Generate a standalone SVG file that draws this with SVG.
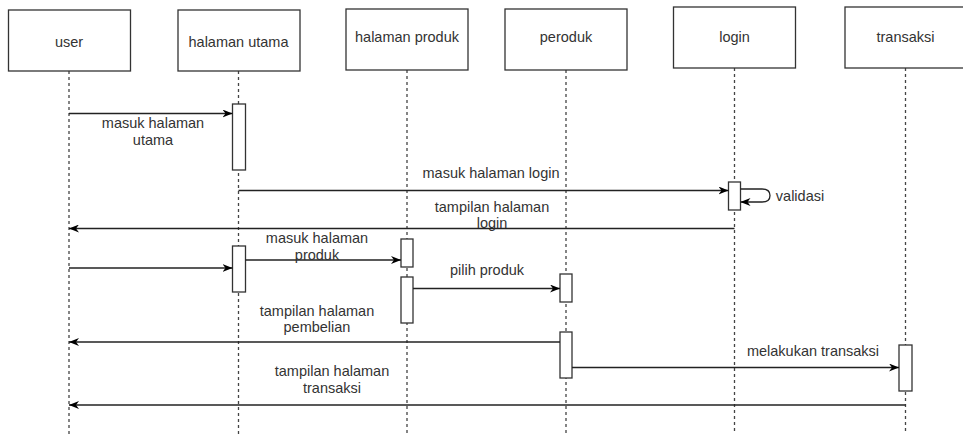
<svg xmlns="http://www.w3.org/2000/svg" width="963" height="434" viewBox="0 0 963 434">
  <defs>
    <marker id="arrow" viewBox="0 0 10 8" refX="10" refY="4" markerWidth="10" markerHeight="8" markerUnits="userSpaceOnUse" orient="auto">
      <path d="M0,0 L10,4 L0,8 L3,4 z" fill="#000"/>
    </marker>
  </defs>
  <style>
    .box { fill: #fff; stroke: #333; stroke-width: 1.3; }
    .act { fill: #fff; stroke: #333; stroke-width: 1.3; }
    .life { stroke: #444; stroke-width: 1.3; stroke-dasharray: 3 3; fill: none; }
    .msg { stroke: #222; stroke-width: 1.3; fill: none; marker-end: url(#arrow); }
    text { font-family: "Liberation Sans", Arial, sans-serif; font-size: 14.5px; fill: #333; text-anchor: middle; }
  </style>
  <rect width="963" height="434" fill="#fff"/>

  <!-- lifelines -->
  <g id="lifelines">
    <line class="life" x1="69" y1="71" x2="69" y2="434"/>
    <line class="life" x1="238.5" y1="71" x2="238.5" y2="434"/>
    <line class="life" x1="407" y1="70" x2="407" y2="434"/>
    <line class="life" x1="566" y1="70" x2="566" y2="434"/>
    <line class="life" x1="734.5" y1="68" x2="734.5" y2="434"/>
    <line class="life" x1="905.5" y1="68" x2="905.5" y2="434"/>
  </g>

  <!-- participants -->
  <g id="user"><rect class="box" x="8.5" y="10" width="122" height="61"/><text x="69" y="47">user</text></g>
  <g id="halaman-utama"><rect class="box" x="178" y="10" width="122" height="61"/><text x="238.5" y="47">halaman utama</text></g>
  <g id="halaman-produk"><rect class="box" x="346" y="9" width="122" height="61"/><text x="407" y="42">halaman produk</text></g>
  <g id="peroduk"><rect class="box" x="505" y="9" width="122" height="61"/><text x="566" y="42">peroduk</text></g>
  <g id="login"><rect class="box" x="673.5" y="7" width="122" height="61"/><text x="734.5" y="42">login</text></g>
  <g id="transaksi"><rect class="box" x="845" y="7" width="122" height="61"/><text x="905.5" y="42">transaksi</text></g>

  <!-- activation bars -->
  <g id="activations">
    <rect class="act" x="232.5" y="104" width="13" height="66"/>
    <rect class="act" x="728.5" y="182" width="12" height="28"/>
    <rect class="act" x="232.5" y="246" width="13" height="46"/>
    <rect class="act" x="401" y="239" width="12" height="28"/>
    <rect class="act" x="401" y="277" width="12" height="46"/>
    <rect class="act" x="560" y="274" width="12" height="28"/>
    <rect class="act" x="560" y="332" width="12" height="46"/>
    <rect class="act" x="899" y="345" width="13" height="46"/>
  </g>

  <!-- messages -->
  <g id="connectors">
    <line class="msg" x1="69" y1="113.5" x2="232.5" y2="113.5"/>
    <line class="msg" x1="238.5" y1="190.5" x2="728.5" y2="190.5"/>
    <path class="msg" d="M740.5,189 L762,189 Q770,189 770,195.5 Q770,202 762,202 L740.5,202"/>
    <line class="msg" x1="734.5" y1="228.5" x2="69" y2="228.5"/>
    <line class="msg" x1="69" y1="268" x2="232.5" y2="268"/>
    <line class="msg" x1="245.5" y1="260" x2="401" y2="260"/>
    <line class="msg" x1="413" y1="288.5" x2="560" y2="288.5"/>
    <line class="msg" x1="560" y1="342" x2="69" y2="342"/>
    <line class="msg" x1="572" y1="367.5" x2="899" y2="367.5"/>
    <line class="msg" x1="905.5" y1="405" x2="69" y2="405"/>
  </g>

  <!-- message labels -->
  <g id="labels">
    <text x="153" y="128">masuk halaman</text>
    <text x="153" y="145">utama</text>
    <text x="491" y="178">masuk halaman login</text>
    <text x="800" y="201">validasi</text>
    <text x="492" y="212">tampilan halaman</text>
    <text x="492" y="228">login</text>
    <text x="317" y="243">masuk halaman</text>
    <text x="317" y="260">produk</text>
    <text x="487" y="275">pilih produk</text>
    <text x="317" y="316">tampilan halaman</text>
    <text x="317" y="332">pembelian</text>
    <text x="813" y="356">melakukan transaksi</text>
    <text x="332" y="376">tampilan halaman</text>
    <text x="332" y="393">transaksi</text>
  </g>
</svg>
